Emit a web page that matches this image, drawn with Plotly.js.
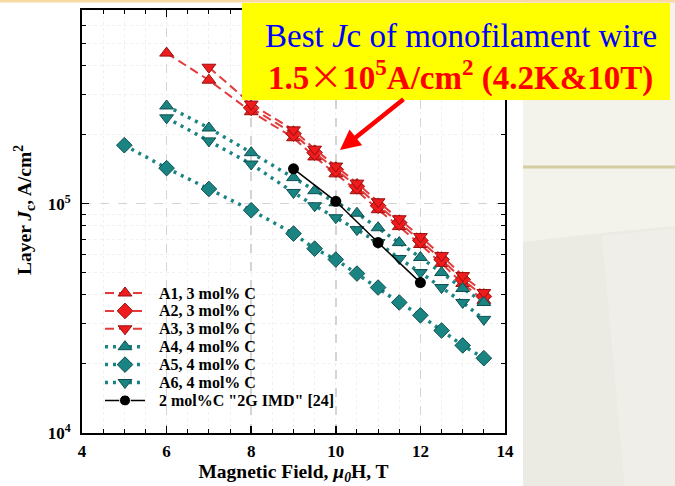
<!DOCTYPE html>
<html>
<head>
<meta charset="utf-8">
<script src="https://cdn.plot.ly/plotly-3.0.1.min.js"></script>
<style>
html,body{margin:0;padding:0;background:#ffffff;}
#chart{width:675px;height:486px;}
</style>
</head>
<body>
<div id="chart"></div>
<script>
// ---- data ----
const fieldA1 = [6, 7, 8, 9, 9.5, 10, 10.5, 11, 11.5, 12, 12.5, 13, 13.5];
const jcA1 = [4.54e5, 3.46e5, 2.52e5, 1.94e5, 1.60e5, 1.35e5, 1.14e5, 9.42e4, 7.95e4, 6.64e4, 5.49e4, 4.49e4, 3.79e4];

const fieldA2 = [8, 9, 9.5, 10, 10.5, 11, 11.5, 12, 12.5, 13, 13.5];
const jcA2 = [2.62e5, 2.02e5, 1.67e5, 1.41e5, 1.19e5, 9.80e4, 8.27e4, 6.91e4, 5.71e4, 4.67e4, 3.94e4];

const fieldA3 = [7, 8, 9, 9.5, 10, 10.5, 11, 11.5, 12, 12.5, 13, 13.5];
const jcA3 = [3.94e5, 2.72e5, 2.10e5, 1.73e5, 1.46e5, 1.23e5, 1.02e5, 8.60e4, 7.19e4, 5.94e4, 4.86e4, 4.10e4];

const fieldA4 = [6, 7, 8, 9, 9.5, 10, 10.5, 11, 11.5, 12, 12.5, 13, 13.5];
const jcA4 = [2.67e5, 2.14e5, 1.67e5, 1.30e5, 1.14e5, 1.01e5, 9.09e4, 7.86e4, 6.77e4, 5.83e4, 5.01e4, 4.27e4, 3.71e4];

const fieldA5 = [5, 6, 7, 8, 9, 9.5, 10, 10.5, 11, 11.5, 12, 12.5, 13, 13.5];
const jcA5 = [1.80e5, 1.43e5, 1.16e5, 9.37e4, 7.41e4, 6.37e4, 5.71e4, 4.96e4, 4.31e4, 3.71e4, 3.26e4, 2.80e4, 2.41e4, 2.12e4];

const fieldA6 = [6, 7, 8, 9, 9.5, 10, 10.5, 11, 11.5, 12, 12.5, 13, 13.5];
const jcA6 = [2.37e5, 1.88e5, 1.49e5, 1.12e5, 9.80e4, 8.69e4, 7.71e4, 6.77e4, 5.77e4, 5.01e4, 4.31e4, 3.71e4, 3.13e4];

const fieldIMD = [9, 10, 11, 12];
const jcIMD = [1.42e5, 1.025e5, 6.77e4, 4.53e4];

const seriesNames = ["A1, 3 mol% C", "A2, 3 mol% C", "A3, 3 mol% C",
                     "A4, 4 mol% C", "A5, 4 mol% C", "A6, 4 mol% C",
                     '2 mol%C "2G IMD" [24]'];

const xTickVals = [4, 6, 8, 10, 12, 14];
const yTickVals = [1e4, 1e5];
const yTickText = ["10<sup>4</sup>", "10<sup>5</sup>"];
const yMinorVals = [2e4, 3e4, 4e4, 5e4, 6e4, 7e4, 8e4, 9e4, 2e5, 3e5, 4e5, 5e5, 6e5];

const xTitle = "Magnetic Field, <i>μ<sub>0</sub></i>H, T";
const yTitle = "Layer <i>J</i><sub>c</sub>, A/cm<sup>2</sup>";
const calloutLine1 = "Best <i>J</i>c of monofilament wire";
const calloutLine2 = "1.5<span style=\"font-family:'Noto Sans CJK SC';font-weight:normal\">×</span>10<sup>5</sup>A/cm<sup>2</sup> (4.2K&amp;10T)";

// ---- styles ----
const RED = "#ee1c1c", RED_EDGE = "#9a0f0f", RED_LINE = "#e23b3b";
const TEAL = "#1a8482", TEAL_EDGE = "#0d4f4e", TEAL_LINE = "#1a8482";
const SERIF = "Liberation Serif, Times New Roman, serif";

const styles = [
  {kind: "red", symbol: "triangle-up"},
  {kind: "red", symbol: "diamond"},
  {kind: "red", symbol: "triangle-down"},
  {kind: "teal", symbol: "triangle-up"},
  {kind: "teal", symbol: "diamond"},
  {kind: "teal", symbol: "triangle-down"},
  {kind: "black", symbol: "circle"}
];

function lineStyle(kind) {
  if (kind === "red") return {color: RED_LINE, width: 2, dash: "9px,5px"};
  if (kind === "teal") return {color: TEAL_LINE, width: 3.5, dash: "3px,5px"};
  return {color: "#000000", width: 1.5};
}
function markerStyle(kind, symbol) {
  if (kind === "red") return {symbol, size: 12, opacity: 1, color: RED, line: {color: RED_EDGE, width: 1}};
  if (kind === "teal") return {symbol, size: 12, opacity: 1, color: TEAL, line: {color: TEAL_EDGE, width: 1}};
  return {symbol, size: 11, opacity: 1, color: "#000000"};
}

const seriesX = [fieldA1, fieldA2, fieldA3, fieldA4, fieldA5, fieldA6, fieldIMD];
const seriesY = [jcA1, jcA2, jcA3, jcA4, jcA5, jcA6, jcIMD];

const traces = seriesX.map((x, i) => ({
  x, y: seriesY[i], name: seriesNames[i], type: "scatter", mode: "lines+markers",
  showlegend: false,
  line: lineStyle(styles[i].kind),
  marker: markerStyle(styles[i].kind, styles[i].symbol)
}));

// plot area in pixels: x 82..505, y 10..433
const L = 82, R = 505, T = 10, B = 433, W = 675, H = 486;
const px = v => (v - L) / (R - L);
const py = v => (B - v) / (B - T);

// hand-built legend (on an overlay axis spanning the plot area in paper units)
const legTop = 293, legStep = 17.9, legX0 = 105, legX1 = 145, legText = 157;
const legendAnnots = [];
seriesNames.forEach((name, i) => {
  const yy = py(legTop + i * legStep);
  const m = markerStyle(styles[i].kind, styles[i].symbol);
  traces.push({
    x: [px(legX0), px((legX0 + legX1) / 2), px(legX1)], y: [yy, yy, yy],
    xaxis: "x2", yaxis: "y2", type: "scatter", mode: "lines+markers", showlegend: false,
    hoverinfo: "skip",
    line: lineStyle(styles[i].kind),
    marker: Object.assign({}, m, {size: [0, m.size, 0], opacity: 1})
  });
  legendAnnots.push({
    xref: "paper", yref: "paper", x: px(legText), y: yy, xanchor: "left", yanchor: "middle",
    showarrow: false, text: name,
    font: {family: SERIF, size: 16, weight: "bold", color: "#000"}
  });
});

const layout = {
  width: W, height: H,
  margin: {l: L, r: W - R, t: T, b: H - B, pad: 0},
  paper_bgcolor: "#ffffff",
  plot_bgcolor: "#ffffff",
  showlegend: false,
  font: {family: SERIF, color: "#000000"},
  xaxis: {
    range: [4, 14], tickmode: "array", tickvals: xTickVals,
    ticks: "inside", ticklen: 7, tickwidth: 1.5, tickcolor: "#000",
    showline: true, linewidth: 2, linecolor: "#000", mirror: "ticks",
    showgrid: true, gridcolor: "#d4d4d4", griddash: "dash", gridwidth: 1.5,
    zeroline: false, ticklabelstandoff: 2,
    tickfont: {family: SERIF, size: 17, weight: "bold"},
    minor: {dtick: 0.5, ticks: "inside", ticklen: 4, tickwidth: 1, tickcolor: "#000",
            showgrid: true, gridcolor: "#f0f0f0", griddash: "dot", gridwidth: 1},
    title: {text: xTitle, font: {family: SERIF, size: 19.5, weight: "bold"}, standoff: 3}
  },
  yaxis: {
    type: "log", range: [4, Math.log10(7e5)],
    tickmode: "array", tickvals: yTickVals, ticktext: yTickText,
    ticks: "inside", ticklen: 7, tickwidth: 1.5, tickcolor: "#000",
    showline: true, linewidth: 2, linecolor: "#000", mirror: "ticks",
    showgrid: true, gridcolor: "#d4d4d4", griddash: "dash", gridwidth: 1.5,
    zeroline: false, ticklabelstandoff: 6,
    tickfont: {family: SERIF, size: 17, weight: "bold"},
    minor: {tickmode: "array", tickvals: yMinorVals, ticks: "inside", ticklen: 4, tickwidth: 1,
            tickcolor: "#000", showgrid: true, gridcolor: "#f0f0f0", griddash: "dot", gridwidth: 1}
  },
  xaxis2: {overlaying: "x", range: [0, 1], visible: false, fixedrange: true},
  yaxis2: {overlaying: "y", range: [0, 1], visible: false, fixedrange: true},
  shapes: [
    // slide background to the right of the figure
    {type: "rect", xref: "paper", yref: "paper", layer: "below",
     x0: px(523), x1: px(W + 2), y0: py(H + 2), y1: py(0),
     fillcolor: "#f4f3eb", line: {width: 0}},
    {type: "path", xref: "paper", yref: "paper", layer: "below",
     path: `M ${px(523)} ${py(242)} Q ${px(600)} ${py(232)} ${px(W + 2)} ${py(226)} L ${px(W + 2)} ${py(H + 2)} L ${px(523)} ${py(H + 2)} Z`,
     fillcolor: "#ecebe3", line: {width: 0}},
    {type: "path", xref: "paper", yref: "paper", layer: "below",
     path: `M ${px(602)} ${py(236)} L ${px(W + 2)} ${py(228)} L ${px(W + 2)} ${py(H + 2)} L ${px(625)} ${py(H + 2)} Z`,
     fillcolor: "#efeee8", line: {width: 0}},
    {type: "rect", xref: "paper", yref: "paper", layer: "below",
     x0: px(523), x1: px(W + 2), y0: py(168.5), y1: py(165.5),
     fillcolor: "#d4cda2", line: {width: 0}},
    // top beige band
    {type: "rect", xref: "paper", yref: "paper", layer: "below",
     x0: px(-2), x1: px(W + 2), y0: py(2.5), y1: py(-2),
     fillcolor: "#f8d9a4", line: {width: 0}},
    // yellow callout box
    {type: "rect", xref: "paper", yref: "paper", layer: "above",
     x0: px(242), x1: px(670), y0: py(100), y1: py(3),
     fillcolor: "#ffff00", line: {width: 0}}
  ],
  annotations: legendAnnots.concat([
    {xref: "paper", yref: "paper", x: px(24), y: py(210), xanchor: "center", yanchor: "middle",
     textangle: -90, showarrow: false, text: yTitle,
     font: {family: SERIF, size: 19.5, weight: "bold", color: "#000"}},
    {xref: "paper", yref: "paper", x: px(461), y: py(36), xanchor: "center", yanchor: "middle",
     showarrow: false, text: calloutLine1,
     font: {family: SERIF, size: 33, color: "#0000ff"}},
    {xref: "paper", yref: "paper", x: px(460), y: py(75), xanchor: "center", yanchor: "middle",
     showarrow: false, text: calloutLine2,
     font: {family: SERIF, size: 33, color: "#ff0000", weight: "bold"}},
    {xref: "paper", yref: "paper", x: px(340), y: py(150), ax: 65, ay: -52,
     axref: "pixel", ayref: "pixel",
     showarrow: true, text: "", arrowhead: 2, arrowsize: 0.9, arrowwidth: 4.5, arrowcolor: "#ff0000"}
  ])
};

Plotly.newPlot("chart", traces, layout, {displayModeBar: false, staticPlot: true});
</script>
</body>
</html>
